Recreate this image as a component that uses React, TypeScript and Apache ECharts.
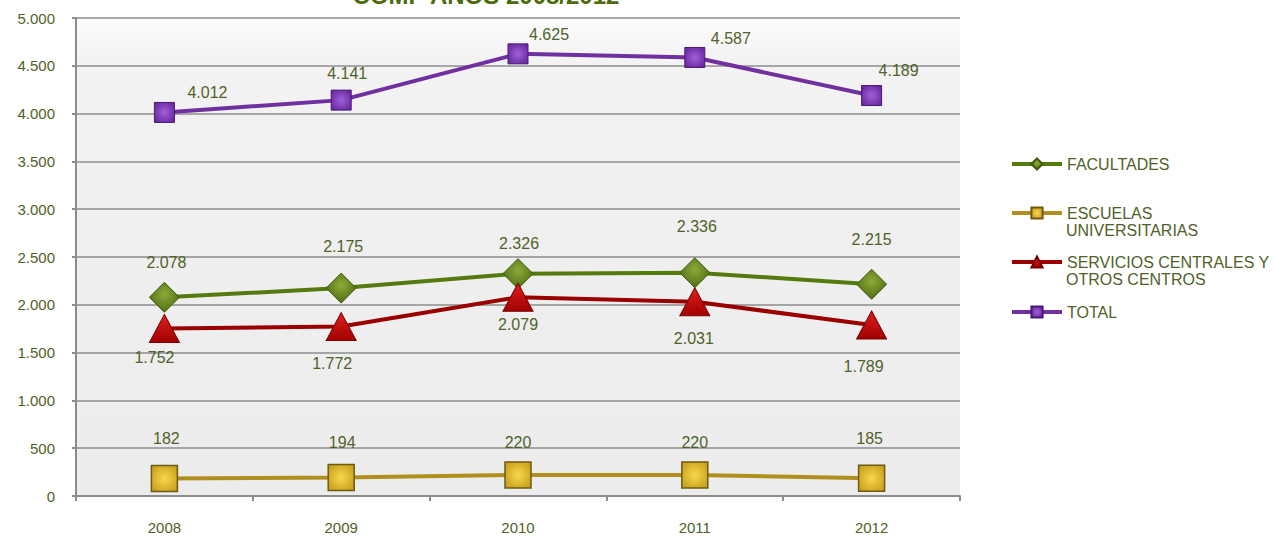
import React, { useEffect, useRef } from "react";
import * as echarts from "echarts";

const years = ["2008", "2009", "2010", "2011", "2012"];
const facultades = [2078, 2175, 2326, 2336, 2215];
const escuelas = [182, 194, 220, 220, 185];
const servicios = [1752, 1772, 2079, 2031, 1789];
const total = [4012, 4141, 4625, 4587, 4189];
const yTicks = [0, 500, 1000, 1500, 2000, 2500, 3000, 3500, 4000, 4500, 5000];

// label offsets (pixels relative to point), style only
const facOffsets = [[2, -35], [2, -42], [1, -30], [2, -46], [0, -45]];
const escOffsets = [[2, -40], [1, -35], [0, -32], [0, -32], [-2, -40]];
const serOffsets = [[-10, 29], [-9, 37], [0, 27], [-1, 37], [-8, 42]];
const totOffsets = [[43, -20], [6, -27], [31, -19], [36, -19], [27, -25]];

const TEXT = "#4F6228";
const FONT = "Liberation Sans, Arial, sans-serif";

const fmt = (v: number) => {
  const s = String(Math.round(v));
  return s.replace(/\B(?=(\d{3})+(?!\d))/g, ".");
};

function withLabels(values: number[], offsets: number[][]) {
  return values.map((v, i) => ({
    value: v,
    label: { offset: offsets[i] },
  }));
}

export default function App() {
  const ref = useRef<HTMLDivElement>(null);
  useEffect(() => {
    if (!ref.current) return;
    const chart = echarts.init(ref.current, undefined, { renderer: "svg" });
    const labelBase = {
      show: true,
      position: "inside",
      color: TEXT,
      fontSize: 16,
      fontFamily: FONT,
      formatter: (p: any) => fmt(p.value),
    };
    const legendBase = {
      orient: "vertical",
      left: 1010,
      padding: 0,
      itemWidth: 50,
      itemHeight: 14,
      itemGap: 0,
      lineStyle: { width: 4 },
      textStyle: { color: TEXT, fontSize: 16, fontFamily: FONT },
    };
    const secondLine = (text: string, y: number) => ({
      type: "text",
      x: 1066,
      y,
      style: {
        text,
        fill: TEXT,
        fontSize: 16,
        fontFamily: FONT,
        align: "left",
        verticalAlign: "middle",
      },
    });
    chart.setOption({
      animation: false,
      backgroundColor: "#ffffff",
      textStyle: { fontFamily: FONT },
      graphic: [
        {
          type: "text",
          x: 486,
          y: -17,
          style: {
            text: "COMP AÑOS 2008/2012",
            fontSize: 24,
            fontWeight: "bold",
            fontFamily: FONT,
            fill: "#4E6A0A",
            align: "center",
            verticalAlign: "top",
          },
        },
        secondLine("UNIVERSITARIAS", 230),
        secondLine("OTROS CENTROS", 279),
      ],
      legend: [
        { ...legendBase, top: 156, data: ["FACULTADES"] },
        {
          ...legendBase,
          top: 205,
          data: ["ESCUELAS"],
        },
        {
          ...legendBase,
          top: 254,
          data: ["SERVICIOS"],
          formatter: () => "SERVICIOS CENTRALES Y",
        },
        { ...legendBase, top: 304, data: ["TOTAL"] },
      ],
      grid: {
        left: 76,
        right: 314,
        top: 18,
        bottom: 42,
        show: true,
        borderWidth: 0,
        backgroundColor: {
          type: "linear",
          x: 0,
          y: 0,
          x2: 0,
          y2: 1,
          colorStops: [
            { offset: 0, color: "#fdfdfd" },
            { offset: 0.08, color: "#f3f3f3" },
            { offset: 0.5, color: "#efefef" },
            { offset: 1, color: "#ececec" },
          ],
        },
      },
      xAxis: {
        type: "category",
        data: years,
        boundaryGap: true,
        axisLine: { show: true, lineStyle: { color: "#8c8c8c", width: 2 } },
        axisTick: { show: true, length: 5, lineStyle: { color: "#8c8c8c", width: 2 } },
        axisLabel: { color: TEXT, fontSize: 15, fontFamily: FONT, margin: 24 },
        splitLine: { show: false },
      },
      yAxis: {
        type: "value",
        min: yTicks[0],
        max: yTicks[yTicks.length - 1],
        interval: yTicks[1] - yTicks[0],
        axisLine: { show: true, lineStyle: { color: "#8c8c8c", width: 2 } },
        axisTick: { show: true, length: 4, lineStyle: { color: "#8c8c8c", width: 2 } },
        axisLabel: {
          color: TEXT,
          fontSize: 15,
          fontFamily: FONT,
          margin: 21,
          formatter: (v: number) => fmt(v),
        },
        splitLine: { show: true, lineStyle: { color: "#8c8c8c", width: 1.5 } },
      },
      series: [
        {
          name: "FACULTADES",
          type: "line",
          data: withLabels(facultades, facOffsets),
          symbol: "diamond",
          symbolSize: [30, 30],
          lineStyle: { color: "#557A0E", width: 4 },
          itemStyle: {
            color: {
              type: "radial",
              x: 0.5,
              y: 0.4,
              r: 0.6,
              colorStops: [
                { offset: 0, color: "#8DAA3A" },
                { offset: 1, color: "#4F6E12" },
              ],
            },
            borderColor: "#3E5A08",
            borderWidth: 1,
          },
          label: labelBase,
          z: 3,
        },
        {
          name: "ESCUELAS",
          type: "line",
          data: withLabels(escuelas, escOffsets),
          symbol: "rect",
          symbolSize: [26, 26],
          lineStyle: { color: "#B08F1F", width: 4 },
          itemStyle: {
            color: {
              type: "radial",
              x: 0.5,
              y: 0.5,
              r: 0.6,
              colorStops: [
                { offset: 0, color: "#F8D848" },
                { offset: 1, color: "#C8A020" },
              ],
            },
            borderColor: "#6E5A10",
            borderWidth: 1.5,
          },
          label: labelBase,
          z: 3,
        },
        {
          name: "SERVICIOS",
          type: "line",
          data: withLabels(servicios, serOffsets),
          symbol: "triangle",
          symbolSize: [30, 28],
          lineStyle: { color: "#9A0000", width: 4 },
          itemStyle: {
            color: {
              type: "linear",
              x: 0,
              y: 0,
              x2: 0,
              y2: 1,
              colorStops: [
                { offset: 0, color: "#E02020" },
                { offset: 1, color: "#A00000" },
              ],
            },
            borderColor: "#7A0000",
            borderWidth: 1,
          },
          label: labelBase,
          z: 3,
        },
        {
          name: "TOTAL",
          type: "line",
          data: withLabels(total, totOffsets),
          symbol: "rect",
          symbolSize: [20, 20],
          lineStyle: { color: "#7030A0", width: 4 },
          itemStyle: {
            color: {
              type: "radial",
              x: 0.5,
              y: 0.5,
              r: 0.6,
              colorStops: [
                { offset: 0, color: "#A060D8" },
                { offset: 1, color: "#6A28A0" },
              ],
            },
            borderColor: "#4A1878",
            borderWidth: 1,
          },
          label: labelBase,
          z: 3,
        },
      ],
    });
    return () => chart.dispose();
  }, []);
  return (
    <div
      ref={ref}
      style={{ position: "fixed", left: 0, top: 0, width: 1274, height: 538 }}
    />
  );
}
